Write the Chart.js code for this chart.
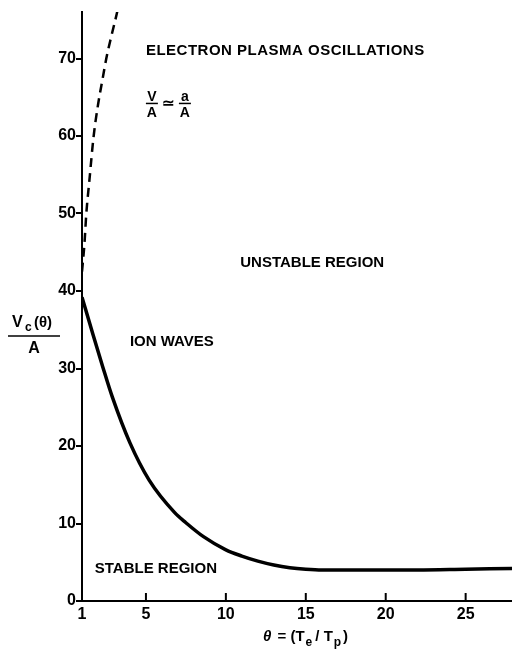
<!DOCTYPE html>
<html>
<head>
<meta charset="utf-8">
<script src="https://cdn.jsdelivr.net/npm/chart.js@4.4.1/dist/chart.umd.min.js"></script>
<style>
  html, body { margin: 0; padding: 0; background: #fff; }
  #wrap { width: 512px; height: 654px; }
</style>
</head>
<body>
<div id="wrap"><canvas id="chart" width="512" height="654"></canvas></div>
<script>
// ion waves threshold (solid)
var thetaSolid = [1, 1.6, 2.3, 2.9, 4, 5.2, 6.8, 7.5, 8.6, 10, 11, 12, 13, 14, 15, 16, 18, 20, 22, 25, 28];
var vSolid     = [39.2, 35, 30.2, 26.3, 20.4, 15.6, 11.4, 10.1, 8.3, 6.6, 5.8, 5.15, 4.65, 4.3, 4.1, 4.0, 4.0, 4.0, 4.0, 4.1, 4.2];
// electron plasma oscillations (dashed)
var thetaDash = [1, 1.15, 1.27, 1.45, 1.73, 2.0, 2.3, 2.52, 2.85, 3.2, 3.35];
var vDash     = [42.5, 46, 50, 54, 60, 64, 67.5, 70, 73, 76, 77.5];
var xTicks = [1, 5, 10, 15, 20, 25];
var yTicks = [0, 10, 20, 30, 40, 50, 60, 70];

var FONT = '"Liberation Sans", Arial, sans-serif';

function pts(xs, ys) {
    return xs.map(function(x, i) { return {x: x, y: ys[i]}; });
}

function fraction(ctx, top, bottom, cx, y, w) {
    ctx.textAlign = 'center';
    ctx.fillText(top, cx, y - 2);
    ctx.beginPath();
    ctx.moveTo(cx - w / 2, y);
    ctx.lineTo(cx + w / 2, y);
    ctx.stroke();
    ctx.fillText(bottom, cx, y + 14);
}

const decor = {
    id: 'decor',
    afterDraw(chart) {
        const ctx = chart.ctx;
        const xs = chart.scales.x, ys = chart.scales.y;
        const area = chart.chartArea;
        ctx.save();
        ctx.strokeStyle = '#000';
        ctx.fillStyle = '#000';

        // x tick marks pointing up into the plot
        ctx.lineWidth = 2;
        xTicks.forEach(function(t) {
            if (t === 1) return;
            const px = xs.getPixelForValue(t);
            ctx.beginPath();
            ctx.moveTo(px, area.bottom);
            ctx.lineTo(px, area.bottom - 8);
            ctx.stroke();
        });

        // region labels
        ctx.font = 'bold 15px ' + FONT;
        ctx.textAlign = 'left';
        ctx.textBaseline = 'middle';
        ctx.letterSpacing = '0.5px';
        ctx.fillText('ELECTRON PLASMA OSCILLATIONS', xs.getPixelForValue(5.0), ys.getPixelForValue(71));
        ctx.letterSpacing = '0px';
        ctx.fillText('UNSTABLE REGION', xs.getPixelForValue(10.9), ys.getPixelForValue(43.6));
        ctx.fillText('ION WAVES', xs.getPixelForValue(4.0), ys.getPixelForValue(33.4));
        ctx.fillText('STABLE REGION', xs.getPixelForValue(1.8), ys.getPixelForValue(4.1));

        // V/A ~ a/A
        ctx.lineWidth = 1.5;
        ctx.textBaseline = 'alphabetic';
        ctx.font = 'bold 14px ' + FONT;
        const fx = xs.getPixelForValue(5.06), fy = ys.getPixelForValue(64.2);
        fraction(ctx, 'V', 'A', fx + 5, fy, 12);
        ctx.font = 'bold 15px ' + FONT;
        ctx.textAlign = 'center';
        ctx.fillText('\u2243', fx + 22, fy + 5);
        ctx.font = 'bold 14px ' + FONT;
        fraction(ctx, 'a', 'A', fx + 38, fy, 12);

        // y axis title
        ctx.textAlign = 'left';
        ctx.font = 'bold 16px ' + FONT;
        ctx.fillText('V', 12, 327);
        ctx.font = 'bold 12px ' + FONT;
        ctx.fillText('c', 25, 331);
        ctx.font = 'bold 15px ' + FONT;
        ctx.fillText('(\u03b8)', 34, 327);
        ctx.lineWidth = 1.5;
        ctx.beginPath();
        ctx.moveTo(8, 336);
        ctx.lineTo(60, 336);
        ctx.stroke();
        ctx.font = 'bold 16px ' + FONT;
        ctx.textAlign = 'center';
        ctx.fillText('A', 34, 353);

        // x axis title
        let x = 263, base = 641;
        ctx.textAlign = 'left';
        const parts = [
            ['italic bold 15px ', '\u03b8', 0, 2],
            ['bold 15px ', ' = (T', 0, 1],
            ['bold 12px ', 'e', 5, 3],
            ['bold 15px ', '/ T', 0, 1],
            ['bold 12px ', 'p', 5, 2],
            ['bold 15px ', ')', 0, 0]
        ];
        parts.forEach(function(p) {
            ctx.font = p[0] + FONT;
            ctx.fillText(p[1], x, base + p[2]);
            x += ctx.measureText(p[1]).width + p[3];
        });
        ctx.restore();
    }
};

const ctx = document.getElementById('chart').getContext('2d');
new Chart(ctx, {
    type: 'scatter',
    data: {
        datasets: [{
            data: pts(thetaSolid, vSolid),
            showLine: true,
            borderColor: '#000',
            borderWidth: 3.5,
            pointRadius: 0,
            cubicInterpolationMode: 'monotone'
        }, {
            data: pts(thetaDash, vDash),
            showLine: true,
            borderColor: '#000',
            borderWidth: 2.5,
            borderDash: [9, 6],
            pointRadius: 0,
            cubicInterpolationMode: 'monotone'
        }]
    },
    options: {
        responsive: false,
        animation: false,
        layout: { padding: { top: 12, right: 0, left: 0, bottom: 0 } },
        plugins: {
            legend: { display: false },
            tooltip: { enabled: false }
        },
        scales: {
            x: {
                type: 'linear',
                min: 1,
                max: 27.9,
                afterBuildTicks: function(scale) {
                    scale.ticks = xTicks.map(function(v) { return {value: v}; });
                },
                afterFit: function(scale) { scale.height = 53; },
                grid: { display: false, drawTicks: false },
                border: { display: true, color: '#000', width: 2 },
                ticks: {
                    color: '#000',
                    padding: 4,
                    maxRotation: 0,
                    font: { family: FONT, size: 16, weight: 'bold' }
                }
            },
            y: {
                type: 'linear',
                min: 0,
                max: 76,
                afterBuildTicks: function(scale) {
                    scale.ticks = yTicks.map(function(v) { return {value: v}; });
                },
                afterFit: function(scale) { scale.width = 82; },
                grid: {
                    display: true,
                    drawOnChartArea: false,
                    drawTicks: true,
                    tickLength: 6,
                    color: '#000',
                    lineWidth: 2
                },
                border: { display: true, color: '#000', width: 2 },
                ticks: {
                    color: '#000',
                    padding: 0,
                    font: { family: FONT, size: 16, weight: 'bold' }
                }
            }
        }
    },
    plugins: [decor]
});
</script>
</body>
</html>
